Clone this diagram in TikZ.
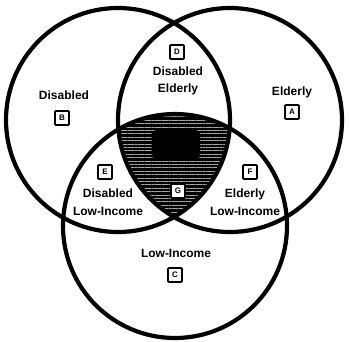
\documentclass[tikz,border=0pt]{standalone}
\usepackage{fontspec}
\setmainfont{Liberation Sans}
\usetikzlibrary{patterns.meta}
\begin{document}
\begin{tikzpicture}[x=1pt,y=-1pt,
  ring/.style={draw,line width=4.2pt,circle,minimum size=224pt,inner sep=0pt},
  lbl/.style={font=\bfseries\fontsize{12}{17.5}\selectfont,align=center,inner sep=0pt},
  tag/.style={draw,line width=1.8pt,minimum size=14pt,inner sep=0pt,font=\bfseries\fontsize{8}{8}\selectfont,fill=white,rounded corners=0.8pt}]
\useasboundingbox (0,0) rectangle (350,341);
\coordinate (cL) at (118,120);
\coordinate (cR) at (230,120);
\coordinate (cB) at (175,226);
\begin{scope}
  \clip (cL) circle (112pt);
  \clip (cR) circle (112pt);
  \fill[black] (cB) circle (112pt);
  \fill[pattern={Lines[angle=0,distance=3.4pt,line width=0.45pt]},pattern color=gray!70] (cB) circle (112pt);
  \fill[black,rounded corners=4pt] (152,130) rectangle (200,160);
\end{scope}
\node[ring] (disabled) at (cL) {};
\node[ring] (elderly) at (cR) {};
\node[ring] (lowinc) at (cB) {};
% labels
\node[lbl] (tB) at (64,95) {Disabled};
\node[tag] (bB) at (62,118) {B};
\node[lbl] (tA) at (292,92) {Elderly};
\node[tag] (bA) at (292,112) {A};
\node[tag] (bD) at (177,52) {D};
\node[lbl] (tD) at (178,81) {Disabled\\Elderly};
\node[tag] (bE) at (105,172) {E};
\node[lbl] (tE) at (108,202) {Disabled\\Low-Income};
\node[tag] (bF) at (250,172) {F};
\node[lbl] (tF) at (245,202) {Elderly\\Low-Income};
\node[lbl] (tC) at (176,253) {Low-Income};
\node[tag] (bC) at (175,275) {C};
\node[tag] (bG) at (178,191) {G};
\end{tikzpicture}
\end{document}
